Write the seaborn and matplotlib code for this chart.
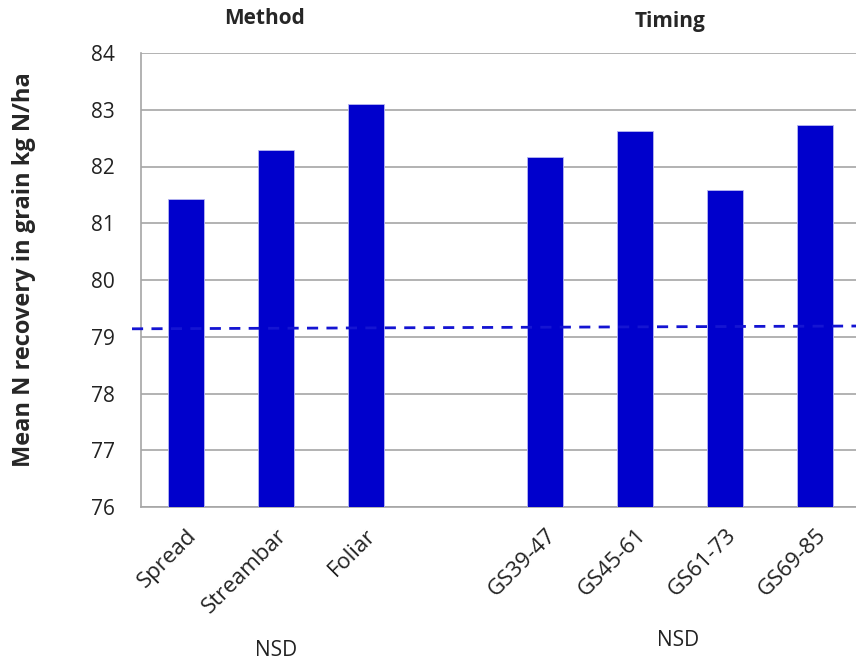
import pandas as pd
import matplotlib
matplotlib.use("Agg")
import matplotlib.pyplot as plt
import seaborn as sns

# values
method_names = ['Spread', 'Streambar', 'Foliar']
method_values = [81.43, 82.29, 83.10]
timing_names = ['GS39-47', 'GS45-61', 'GS61-73', 'GS69-85']
timing_values = [82.16, 82.63, 81.59, 82.73]
ref_line = [79.14, 79.19]   # dashed reference line, left end / right end
y_ticks = [76, 77, 78, 79, 80, 81, 82, 83, 84]

order = method_names + [' '] + timing_names
df = pd.DataFrame({'treatment': method_names + timing_names,
                   'recovery': method_values + timing_values})

sns.set_style('white')
plt.rcParams['font.family'] = ['Open Sans', 'DejaVu Sans']

fig = plt.figure(figsize=(8.56, 6.63), dpi=100)
ax = fig.add_axes([141 / 856, 1 - 507 / 663, 719 / 856, 454 / 663])

sns.barplot(data=df, x='treatment', y='recovery', order=order, color='#0000CC',
            saturation=1, width=0.4, edgecolor='#B8B8F0', linewidth=0.6, ax=ax, zorder=3)

ax.plot([-0.6, len(order) - 0.4], ref_line, linestyle=(0, (4, 3)), color='#1414D2',
        linewidth=2, zorder=4, clip_on=False)

ax.set_xlim(-0.5, len(order) - 0.5)
ax.set_ylim(76, 84)
ax.set_yticks(y_ticks)
ax.set_yticklabels([str(t) for t in y_ticks], fontsize=15, color='#222222')
ax.yaxis.grid(True, color='#A6A6A6', linewidth=1.2, zorder=0)
ax.set_axisbelow(True)
ax.tick_params(axis='both', length=0)
ax.tick_params(axis='y', pad=19)
ax.set_xticks(range(len(order)))
ax.set_xticklabels(order, rotation=45, ha='right', rotation_mode='anchor', fontsize=16,
                   color='#222222')
ax.tick_params(axis='x', pad=13)

for side in ['left', 'bottom']:
    ax.spines[side].set_color('#A6A6A6')
    ax.spines[side].set_linewidth(1.2)
ax.spines['top'].set_visible(False)
ax.spines['right'].set_visible(False)

ax.set_xlabel('')
ax.set_ylabel('Mean N recovery in grain kg N/ha', fontsize=17, fontweight='bold')
ax.yaxis.set_label_coords(-(141 - 36) / 719, 0.522)

fig.text(265 / 856, 1 - 18 / 663, 'Method', ha='center', va='center', fontsize=15, fontweight='bold')
fig.text(670 / 856, 1 - 22 / 663, 'Timing', ha='center', va='center', fontsize=15, fontweight='bold')
fig.text(276 / 856, 1 - 650 / 663, 'NSD', ha='center', va='center', fontsize=15, color='#222222')
fig.text(678 / 856, 1 - 640 / 663, 'NSD', ha='center', va='center', fontsize=15, color='#222222')

fig.savefig('out.png', dpi=100)
